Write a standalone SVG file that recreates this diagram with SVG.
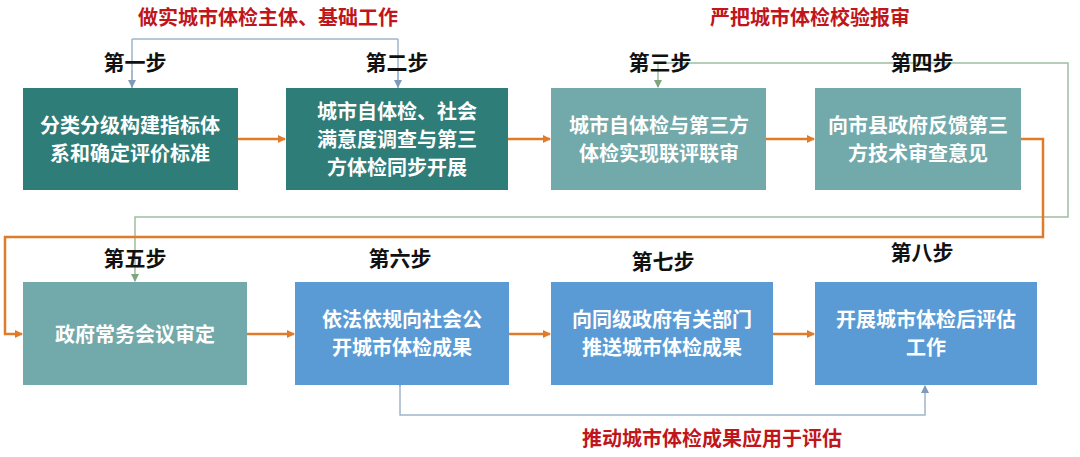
<svg xmlns="http://www.w3.org/2000/svg" width="1080" height="457" viewBox="0 0 1080 457">
<style>
text{font-family:"Noto Sans CJK SC","Noto Sans",sans-serif;font-weight:bold;text-anchor:middle}
.t{fill:#fff;font-size:20px}
.s{fill:#111;font-size:21px}
.r{fill:#c0161b;font-size:20px}
.d{fill:#2e7d79}.m{fill:#72a9aa}.b{fill:#5b9bd5}
.o{stroke:#e07b2a;stroke-width:2.5;fill:none}
.g{stroke:#9fbfa0;stroke-width:1.5;fill:none}
.u{stroke:#9fb5cc;stroke-width:1.5;fill:none}
</style>
<defs>
<marker id="ao" markerWidth="8" markerHeight="8" refX="7" refY="4" orient="auto" markerUnits="userSpaceOnUse"><path d="M0,0L8,4L0,8z" fill="#e07b2a"/></marker>
<marker id="ag" markerWidth="8" markerHeight="8" refX="7" refY="4" orient="auto" markerUnits="userSpaceOnUse"><path d="M0,0L8,4L0,8z" fill="#7fa57f"/></marker>
<marker id="au" markerWidth="8" markerHeight="8" refX="7" refY="4" orient="auto" markerUnits="userSpaceOnUse"><path d="M0,0L8,4L0,8z" fill="#7f9ab8"/></marker>
</defs>
<text class="r" x="268" y="25">做实城市体检主体、基础工作</text>
<text class="r" x="810" y="25">严把城市体检校验报审</text>
<text class="r" x="712" y="446">推动城市体检成果应用于评估</text>
<g id="connectors">
<path class="u" d="M132,39H398M132,39V88M398,39V88" />
<path class="u" d="M132,70V87" marker-end="url(#au)"/>
<path class="u" d="M398,70V87" marker-end="url(#au)"/>
<path class="g" d="M658,63H1068V217H135V281" marker-end="url(#ag)"/>
<path class="g" d="M658,63V87" marker-end="url(#ag)"/>
<path class="o" d="M238,139H285" marker-end="url(#ao)"/>
<path class="o" d="M508,139H550" marker-end="url(#ao)"/>
<path class="o" d="M766,139H814" marker-end="url(#ao)"/>
<path class="o" d="M1020,139H1043V237H5V334H22" marker-end="url(#ao)"/>
<path class="o" d="M247,334H294" marker-end="url(#ao)"/>
<path class="o" d="M509,334H550" marker-end="url(#ao)"/>
<path class="o" d="M773,334H814" marker-end="url(#ao)"/>
<path class="u" d="M400,386V415H925V386" marker-start="url(#au)" marker-end="url(#au)"/>
</g>
<g id="n1"><rect class="d" x="23" y="88" width="215" height="102"/><text class="s" x="135" y="70">第一步</text><text class="t" x="130" y="133">分类分级构建指标体</text><text class="t" x="130" y="161">系和确定评价标准</text></g>
<g id="n2"><rect class="d" x="286" y="88" width="222" height="102"/><text class="s" x="397" y="70">第二步</text><text class="t" x="397" y="119">城市自体检、社会</text><text class="t" x="397" y="147">满意度调查与第三</text><text class="t" x="397" y="175">方体检同步开展</text></g>
<g id="n3"><rect class="m" x="551" y="88" width="215" height="102"/><text class="s" x="660" y="70">第三步</text><text class="t" x="659" y="133">城市自体检与第三方</text><text class="t" x="659" y="161">体检实现联评联审</text></g>
<g id="n4"><rect class="m" x="815" y="88" width="206" height="102"/><text class="s" x="922" y="70">第四步</text><text class="t" x="918" y="133">向市县政府反馈第三</text><text class="t" x="918" y="161">方技术审查意见</text></g>
<g id="n5"><rect class="m" x="23" y="282" width="224" height="103"/><text class="s" x="135" y="266">第五步</text><text class="t" x="135" y="342">政府常务会议审定</text></g>
<g id="n6"><rect class="b" x="295" y="282" width="214" height="103"/><text class="s" x="400" y="266">第六步</text><text class="t" x="402" y="327">依法依规向社会公</text><text class="t" x="402" y="355">开城市体检成果</text></g>
<g id="n7"><rect class="b" x="551" y="282" width="222" height="103"/><text class="s" x="663" y="269">第七步</text><text class="t" x="662" y="327">向同级政府有关部门</text><text class="t" x="662" y="355">推送城市体检成果</text></g>
<g id="n8"><rect class="b" x="815" y="282" width="222" height="103"/><text class="s" x="922" y="260">第八步</text><text class="t" x="926" y="327">开展城市体检后评估</text><text class="t" x="926" y="355">工作</text></g>
</svg>
